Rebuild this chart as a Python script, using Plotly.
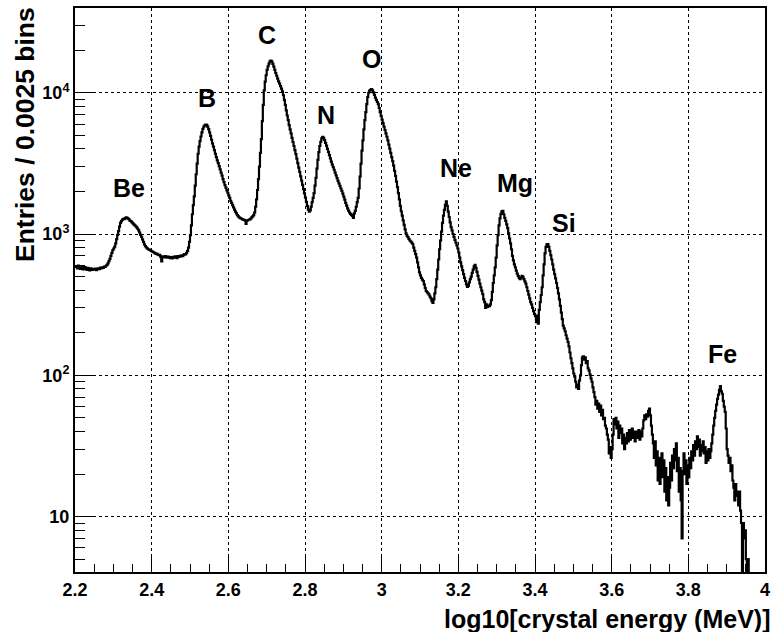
import numpy as np
import plotly.graph_objects as go

# Histogram definition: 720 bins of 0.0025 from 2.2 to 4.0
x_min = 2.2
bin_w = 0.0025

counts = [
    592, 585, 571, 598, 580, 566, 577, 590, 561, 572, 583, 566, 558, 575, 569, 552, 571, 563, 557, 568,
    561, 570, 556, 565, 572, 563, 578, 570, 582, 576, 588, 584, 596, 605, 620, 642, 668, 700, 735, 770,
    790, 815, 860, 920, 985, 1050, 1130, 1200, 1235, 1262, 1280, 1275, 1296, 1310, 1302, 1285, 1268, 1240, 1232, 1210,
    1190, 1172, 1150, 1135, 1115, 1090, 1060, 1025, 985, 955, 915, 880, 845, 822, 805, 792, 780, 775, 768, 760,
    752, 748, 740, 733, 722, 728, 715, 708, 712, 690, 640, 695, 690, 684, 697, 688, 679, 692, 683, 675,
    686, 672, 690, 681, 695, 684, 676, 698, 688, 701, 693, 706, 698, 712, 720, 716, 735, 760, 800, 880,
    980, 1150, 1380, 1600, 1850, 2200, 2650, 3150, 3700, 4150, 4550, 4900, 5250, 5550, 5750, 5880, 5960, 5920, 5750, 5530,
    5250, 4950, 4650, 4380, 4150, 3920, 3700, 3500, 3320, 3180, 3020, 2870, 2720, 2590, 2450, 2330, 2220, 2130, 2040, 1960,
    1880, 1800, 1720, 1660, 1600, 1545, 1490, 1440, 1400, 1360, 1335, 1310, 1295, 1288, 1276, 1265, 1258, 1249, 1180, 1245,
    1252, 1262, 1270, 1285, 1310, 1335, 1360, 1420, 1560, 1760, 2050, 2450, 3000, 3750, 4700, 6300, 8200, 10400, 12000, 13300,
    14500, 15400, 16100, 16700, 16900, 16600, 16000, 15300, 14500, 13800, 13200, 12600, 12050, 11600, 11150, 10700, 10250, 9600, 8900, 8200,
    7500, 6900, 6400, 5900, 5500, 5150, 4800, 4480, 4200, 3930, 3680, 3420, 3180, 2950, 2750, 2560, 2390, 2230, 2080, 1940,
    1810, 1690, 1580, 1490, 1440, 1470, 1560, 1680, 1800, 1950, 2200, 2500, 2900, 3350, 3800, 4200, 4500, 4750, 4880, 4800,
    4620, 4420, 4220, 4010, 3820, 3620, 3430, 3250, 3100, 2980, 2850, 2720, 2600, 2490, 2380, 2280, 2190, 2100, 2020, 1930,
    1840, 1750, 1660, 1590, 1520, 1465, 1420, 1390, 1365, 1345, 1300, 1400, 1460, 1560, 1680, 1800, 2100, 2550, 3150, 3900,
    4600, 5500, 6400, 7300, 8300, 9300, 10000, 10350, 10500, 10600, 10400, 10050, 9650, 9250, 8900, 8600, 8300, 7800, 7300, 6850,
    6450, 6100, 5750, 5450, 5150, 4880, 4600, 4300, 4020, 3750, 3500, 3280, 3050, 2800, 2580, 2350, 2150, 1950, 1760, 1580,
    1450, 1350, 1250, 1160, 1080, 1010, 975, 950, 925, 900, 885, 870, 850, 800, 760, 720, 680, 630, 580, 535,
    510, 490, 475, 465, 440, 415, 395, 388, 380, 372, 360, 350, 335, 325, 345, 380, 420, 480, 560, 660,
    780, 900, 1040, 1200, 1350, 1480, 1610, 1700, 1580, 1440, 1320, 1210, 1120, 1060, 1000, 955, 910, 870, 830, 790,
    740, 680, 630, 590, 555, 520, 490, 465, 440, 422, 430, 455, 480, 500, 530, 560, 590, 605, 575, 540,
    505, 475, 445, 420, 398, 375, 345, 330, 300, 318, 305, 312, 308, 318, 340, 390, 450, 510, 580, 680,
    830, 980, 1150, 1290, 1390, 1450, 1460, 1380, 1300, 1240, 1170, 1100, 1010, 930, 860, 780, 700, 650, 610, 580,
    550, 525, 505, 490, 480, 492, 505, 498, 480, 462, 445, 420, 395, 372, 350, 330, 318, 300, 285, 272,
    262, 238, 265, 232, 290, 330, 370, 420, 510, 610, 730, 810, 845, 850, 810, 760, 710, 660, 610, 560,
    520, 485, 450, 415, 380, 345, 310, 278, 250, 225, 215, 205, 192, 182, 172, 160, 145, 132, 122, 112,
    103, 98, 90, 82, 86, 80, 92, 100, 118, 134, 136, 129, 134, 122, 126, 112, 108, 101, 95, 90,
    82, 76, 70, 62, 66, 58, 63, 55, 61, 52, 57, 49, 50, 44, 42, 38, 35, 28, 31, 26,
    30, 38, 49, 45, 50, 42, 47, 36, 44, 39, 42, 33, 38, 30, 36, 33, 39, 34, 41, 35,
    37, 42, 36, 40, 34, 38, 40, 36, 41, 35, 40, 37, 42, 48, 52, 49, 53, 51, 56, 58,
    52, 44, 38, 33, 26, 34, 23, 29, 18, 26, 17, 24, 28, 19, 25, 15, 22, 13, 19, 12,
    16, 24, 18, 27, 22, 30, 25, 33, 21, 26, 15, 22, 13, 7, 21, 28, 20, 25, 17, 23,
    19, 26, 22, 29, 25, 32, 27, 34, 30, 37, 31, 35, 27, 32, 29, 34, 28, 31, 24, 29,
    25, 30, 26, 29, 33, 38, 44, 50, 56, 62, 68, 73, 79, 84, 77, 74, 66, 60, 55, 42,
    30, 27, 24, 26, 21, 23, 18, 16, 13, 17, 14, 15, 12, 15, 11, 9, 0, 9, 7, 8,
    5, 0, 5, 3, 0, 0, 0, 0, 0, 0, 0, 0, 0, 0, 0, 0, 0, 0, 0, 0,
]

peak_labels = ["Be", "B", "C", "N", "O", "Ne", "Mg", "Si", "Fe"]
label_x = [2.342, 2.5445, 2.7017, 2.8553, 2.9744, 3.1933, 3.3474, 3.4769, 3.8887]
label_y = [2110, 9250, 25500, 6960, 17300, 2940, 2310, 1202, 141]

x_major = [2.2, 2.4, 2.6, 2.8, 3.0, 3.2, 3.4, 3.6, 3.8, 4.0]
x_major_text = ["2.2", "2.4", "2.6", "2.8", "3", "3.2", "3.4", "3.6", "3.8", "4"]
y_major = [10, 100, 1000, 10000]
y_major_text = ["10", "10<sup>2</sup>", "10<sup>3</sup>", "10<sup>4</sup>"]

x_title = "log10[crystal energy (MeV)]"
y_title = "Entries / 0.0025 bins"

# ---- build step outline ----
counts_arr = np.array(counts, dtype=float)
n_bins = len(counts_arr)
edges = x_min + bin_w * np.arange(n_bins + 1)
# empty bins drop below the visible log range (as ROOT draws them to the frame bottom)
plot_vals = np.where(counts_arr > 0, counts_arr, 0.1)
step_y = np.append(plot_vals, plot_vals[-1])

minor_y = []
for dec in [1, 10, 100, 1000, 10000]:
    for m in range(2, 10):
        minor_y.append(m * dec)

FONT = "Liberation Sans, Arial, Helvetica, sans-serif"

fig = go.Figure()
fig.add_trace(go.Scatter(
    x=edges, y=step_y, mode="lines", line=dict(color="black", width=2.2, shape="hv"),
    hoverinfo="skip", showlegend=False,
))

for t, lx, ly in zip(peak_labels, label_x, label_y):
    fig.add_annotation(x=lx, y=np.log10(ly), xref="x", yref="y", text="<b>" + t + "</b>", showarrow=False,
                       xanchor="center", yanchor="middle",
                       font=dict(family=FONT, size=25, color="black"))

fig.add_annotation(x=1.012, y=-0.083, xref="paper", yref="paper", text="<b>" + x_title + "</b>",
                   showarrow=False, xanchor="right", yanchor="middle",
                   font=dict(family=FONT, size=25, color="black"))
fig.add_annotation(x=-0.0734, y=1.005, xref="paper", yref="paper", text="<b>" + y_title + "</b>",
                   showarrow=False, xanchor="center", yanchor="top", textangle=-90,
                   font=dict(family=FONT, size=26.5, color="black"))

tickfont = dict(family=FONT, size=18, color="black")

fig.update_layout(
    width=776, height=632,
    margin=dict(l=75, r=6, t=7, b=60),
    paper_bgcolor="white", plot_bgcolor="white",
    showlegend=False,
    xaxis=dict(
        range=[2.2, 4.0],
        tickmode="array", tickvals=x_major, ticktext=["<b>" + s + "</b>" for s in x_major_text],
        ticks="inside", ticklen=17, tickwidth=1, tickcolor="black",
        showline=True, linewidth=2, linecolor="black", mirror=True,
        showgrid=True, gridcolor="black", griddash="dot", gridwidth=1,
        zeroline=False, tickfont=tickfont,
        minor=dict(tick0=2.2, dtick=0.05, ticks="inside", ticklen=8, tickcolor="black", showgrid=False),
    ),
    yaxis=dict(
        type="log", range=[0.6075, 4.6],
        tickmode="array", tickvals=y_major, ticktext=["<b>" + s + "</b>" for s in y_major_text],
        ticks="inside", ticklen=20, tickwidth=1, tickcolor="black",
        showline=True, linewidth=2, linecolor="black", mirror=True,
        showgrid=True, gridcolor="black", griddash="dot", gridwidth=1,
        zeroline=False, tickfont=tickfont,
        minor=dict(tickmode="array", tickvals=minor_y, ticks="inside", ticklen=10,
                   tickcolor="black", showgrid=False),
    ),
)

fig.write_html("out.html")
